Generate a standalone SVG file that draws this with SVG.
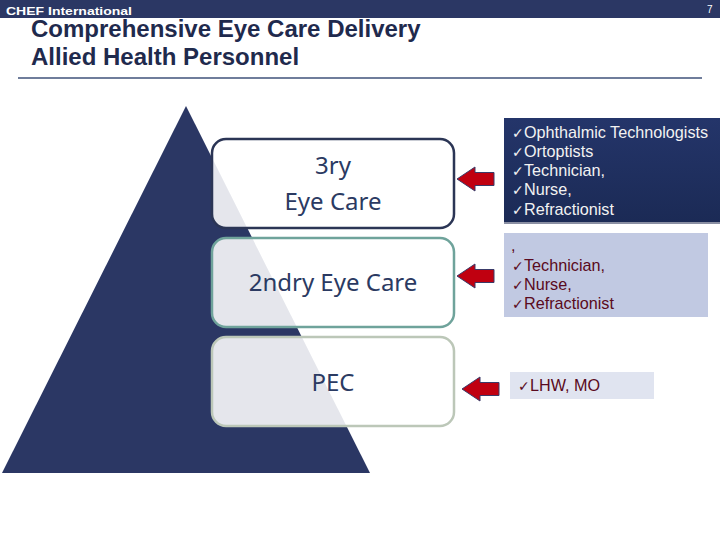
<svg xmlns="http://www.w3.org/2000/svg" width="720" height="540" viewBox="0 0 720 540">
<defs>
<linearGradient id="g" x1="0" y1="0" x2="0" y2="1"><stop offset="0" stop-color="#24356a"/><stop offset="1" stop-color="#1b2a55"/></linearGradient>
<g id="arrow"><path d="M0 0L18-12V-6.5H37V6.5H18V12Z" fill="#c00010" stroke="#3a3a68" stroke-width="1"/></g>
</defs>
<style>
text{font-family:"Liberation Sans",Arial,sans-serif}
.t{font-weight:bold;font-size:24px;fill:#1f2a4d}
.b{fill:#fff;fill-opacity:.88;stroke-width:2.5}
.n{font-family:"Noto Sans",sans-serif;font-size:24px;fill:#2b3a62;text-anchor:middle}
.l{font-size:16.2px}
.c{font-family:"DejaVu Sans",sans-serif;font-size:14px}
</style>
<rect width="720" height="18" fill="#2b3764"/>
<text x="6" y="15" font-size="11" font-weight="bold" fill="#fff" textLength="126" lengthAdjust="spacingAndGlyphs">CHEF International</text>
<text x="707" y="13" font-size="10" fill="#fff">7</text>
<text class="t" x="31" y="37">Comprehensive Eye Care Delivery</text>
<text class="t" x="31" y="65">Allied Health Personnel</text>
<rect x="18" y="77" width="684" height="2" fill="#6f7d9b"/>
<path d="M186 106L370 473H2Z" fill="#2b3764"/>
<g id="node-3ry"><rect class="b" x="212" y="139" width="242" height="89" rx="14" stroke="#2b3555"/>
<text class="n" x="333" y="174">3ry</text><text class="n" x="333" y="210">Eye Care</text></g>
<g id="node-2ndry"><rect class="b" x="212" y="238" width="242" height="89" rx="14" stroke="#6fa39b"/>
<text class="n" x="333" y="291">2ndry Eye Care</text></g>
<g id="node-pec"><rect class="b" x="212" y="337" width="242" height="89" rx="14" stroke="#bcc7b8"/>
<text class="n" x="333" y="391">PEC</text></g>
<g id="connectors">
<use href="#arrow" x="457" y="179"/>
<use href="#arrow" x="457" y="276"/>
<use href="#arrow" x="462" y="389"/>
</g>
<g id="list-3ry"><rect x="504" y="118" width="216" height="105" fill="url(#g)"/><rect x="504" y="222" width="216" height="2" fill="#8a8fa3"/>
<g fill="#f2f2f2" class="l"><text x="512" y="138"><tspan class="c">✓</tspan><tspan x="524">Ophthalmic Technologists</tspan></text>
<text x="512" y="157"><tspan class="c">✓</tspan><tspan x="524">Ortoptists</tspan></text>
<text x="512" y="176"><tspan class="c">✓</tspan><tspan x="524">Technician,</tspan></text>
<text x="512" y="195"><tspan class="c">✓</tspan><tspan x="524">Nurse,</tspan></text>
<text x="512" y="215"><tspan class="c">✓</tspan><tspan x="524">Refractionist</tspan></text></g></g>
<g id="list-2ndry"><rect x="504" y="233" width="204" height="84" fill="#c1c9e2"/>
<g fill="#5a0a20" class="l"><text x="511" y="251">,</text>
<text x="512" y="271"><tspan class="c">✓</tspan><tspan x="524">Technician,</tspan></text>
<text x="512" y="290"><tspan class="c">✓</tspan><tspan x="524">Nurse,</tspan></text>
<text x="512" y="309"><tspan class="c">✓</tspan><tspan x="524">Refractionist</tspan></text></g></g>
<g id="list-pec"><rect x="510" y="372" width="144" height="27" fill="#e0e4f0"/>
<text x="518" y="391" fill="#5a0a20" class="l"><tspan class="c">✓</tspan><tspan x="530">LHW, MO</tspan></text></g>
</svg>
